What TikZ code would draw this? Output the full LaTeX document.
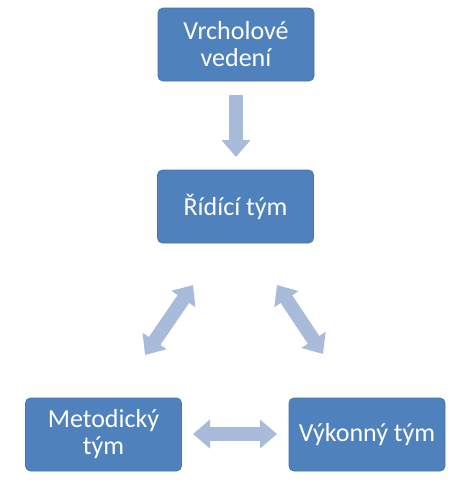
\documentclass[tikz,border=0pt]{standalone}
\usepackage{fontspec}
\setmainfont{Carlito}
\usetikzlibrary{arrows.meta}
\definecolor{boxblue}{RGB}{79,129,189}
\definecolor{boxedge}{RGB}{70,116,172}
\definecolor{arrowblue}{RGB}{168,187,219}
\begin{document}
\begin{tikzpicture}[x=1pt,y=-1pt,
  teambox/.style={draw=boxedge, line width=0.8pt, fill=boxblue, rounded corners=5pt,
    minimum width=156pt, minimum height=73pt, text=white, align=center,
    font=\fontsize{26}{27}\selectfont, inner sep=0pt},
  blockarrow/.style={draw=arrowblue, line width=14pt, line cap=butt},
  tipA/.style={-{Triangle[width=28pt,length=17pt,fill=arrowblue]}},
  tipAB/.style={{Triangle[width=28pt,length=17pt,fill=arrowblue]}-{Triangle[width=28pt,length=17pt,fill=arrowblue]}}
]
\useasboundingbox (0,0) rectangle (471,493);
\node[teambox] (top) at (236,44.5) {Vrcholové\\vedení};
\node[teambox] (mid) at (235.5,206.5) {Řídící tým};
\node[teambox] (left) at (103.5,434.5) {Metodický\\tým};
\node[teambox] (right) at (367,434.5) {Výkonný tým};
\coordinate (d1s) at (236,95);
\coordinate (d1e) at (236,157);
\coordinate (l1) at (145,355);
\coordinate (l2) at (193,285);
\coordinate (r1) at (277,285);
\coordinate (r2) at (323,354);
\coordinate (h1) at (193,434);
\coordinate (h2) at (277,434);
\draw[blockarrow,tipA] (d1s) -- (d1e);
\draw[blockarrow,tipAB] (l1) -- (l2);
\draw[blockarrow,tipAB] (r1) -- (r2);
\draw[blockarrow,tipAB] (h1) -- (h2);
\end{tikzpicture}
\end{document}
